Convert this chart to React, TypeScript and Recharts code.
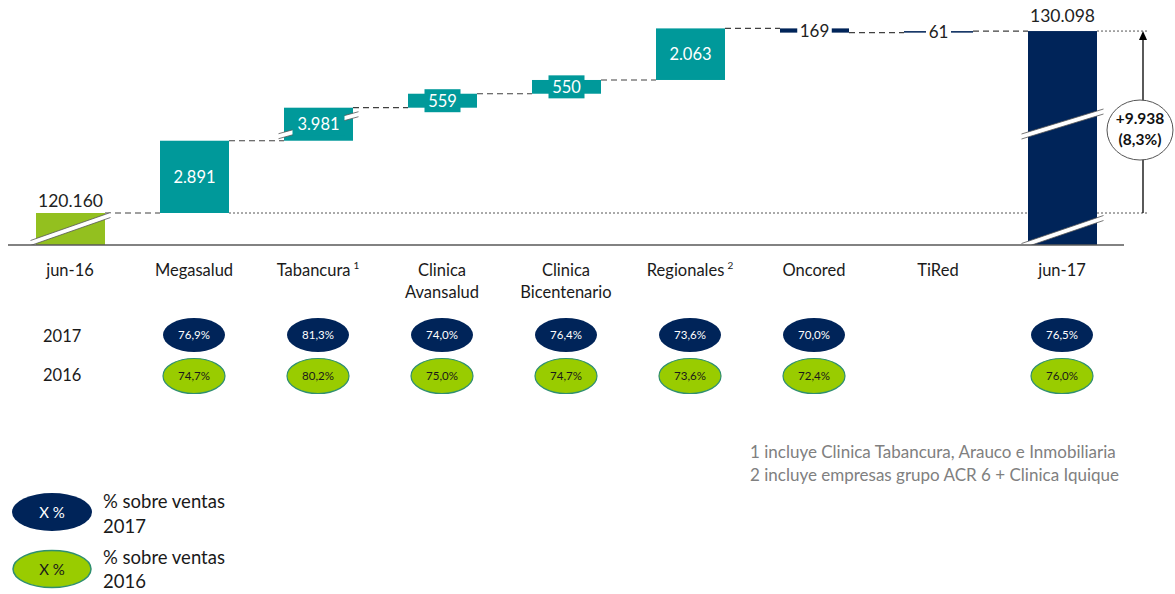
import React from "react";
import { BarChart, Bar, XAxis, YAxis, LabelList } from "recharts";

// categories and their axis labels
const categories = ["jun-16", "Megasalud", "Tabancura", "Clinica Avansalud", "Clinica Bicentenario", "Regionales", "Oncored", "TiRed", "jun-17"];
const tickLine1 = ["jun-16", "Megasalud", "Tabancura", "Clinica", "Clinica", "Regionales", "Oncored", "TiRed", "jun-17"];
const tickLine2 = ["", "", "", "Avansalud", "Bicentenario", "", "", "", ""];
const tickSup = ["", "", "1", "", "", "2", "", "", ""];

// ventas (first and last are totals, the rest are deltas)
const deltas = [120160, 2891, 3981, 559, 550, 2063, -169, 61, 130098];
const valueLabels = ["120.160", "2.891", "3.981", "559", "550", "2.063", "169", "61", "130.098"];

// % sobre ventas
const pct2017 = ["", "76,9%", "81,3%", "74,0%", "76,4%", "73,6%", "70,0%", "", "76,5%"];
const pct2016 = ["", "74,7%", "80,2%", "75,0%", "74,7%", "73,6%", "72,4%", "", "76,0%"];

const totalChange = "+9.938";
const totalPct = "(8,3%)";

const footnotes = ["1 incluye Clinica Tabancura, Arauco e Inmobiliaria", "2 incluye empresas grupo ACR 6 + Clinica Iquique"];

// axis break: the totals start well above zero and Tabancura is drawn shortened
const AXIS_FLOOR = 118880;
const AXIS_TOP = 128680;
const TABANCURA_BREAK = 2660;

const GREEN = "#93c01f";
const TEAL = "#00999a";
const NAVY = "#002459";
const barColors = [GREEN, TEAL, TEAL, TEAL, TEAL, TEAL, NAVY, NAVY, NAVY];

const BAND = 124;
const FONT = "Lato, sans-serif";

const data = (() => {
  const rows: any[] = [];
  let level = deltas[0];
  deltas.forEach((d, i) => {
    if (i === 0) {
      rows.push({ name: categories[i], idx: i, delta: d, range: [AXIS_FLOOR, d], label: valueLabels[i] });
    } else if (i === deltas.length - 1) {
      rows.push({ name: categories[i], idx: i, delta: d, range: [AXIS_FLOOR, d - TABANCURA_BREAK], label: valueLabels[i] });
    } else {
      const shown = i === 2 ? d - TABANCURA_BREAK : d;
      const next = level + shown;
      rows.push({ name: categories[i], idx: i, delta: d, range: [Math.min(level, next), Math.max(level, next)], label: valueLabels[i] });
      level = next;
    }
  });
  return rows;
})();

function BreakMark({ cx, cy, hw, hd }: { cx: number; cy: number; hw: number; hd: number }) {
  const t = 2.5;
  const lx = cx - hw, ly = cy + hd, rx = cx + hw, ry = cy - hd;
  return (
    <g>
      <polygon points={`${lx},${ly + t} ${rx},${ry + t} ${rx},${ry - t} ${lx},${ly - t}`} fill="#fff" />
      <line x1={lx} y1={ly + t} x2={rx} y2={ry + t} stroke="#555" strokeWidth={0.8} />
      <line x1={lx} y1={ly - t} x2={rx} y2={ry - t} stroke="#555" strokeWidth={0.8} />
    </g>
  );
}

function WaterfallBar(props: any) {
  const { x, y, width, height, payload } = props;
  const i = payload.idx;
  const last = deltas.length - 1;
  const endY = payload.delta < 0 ? y + height : y;
  const cx = x + width / 2;

  if (i === last) {
    const floorY = y + height;
    const baseY = floorY - (height * (deltas[0] - AXIS_FLOOR)) / (payload.range[1] - AXIS_FLOOR);
    const ax = x + width + 46;
    const megaRight = x - 7 * BAND + width;
    return (
      <g>
        <line x1={megaRight} y1={baseY} x2={ax + 4} y2={baseY} stroke="#555" strokeWidth={1} strokeDasharray="2 2" />
        <rect x={x} y={y} width={width} height={height} fill={barColors[i]} />
        <line x1={x + width} y1={y} x2={ax + 4} y2={y} stroke="#555" strokeWidth={1} strokeDasharray="2 2" />
        <BreakMark cx={cx} cy={y + height - 121} hw={41} hd={12.5} />
        <BreakMark cx={cx} cy={y + height - 13} hw={41} hd={14} />
        <line x1={ax} y1={baseY} x2={ax} y2={y + 8} stroke="#000" strokeWidth={1.3} />
        <polygon points={`${ax - 4},${y + 9} ${ax + 4},${y + 9} ${ax},${y}`} fill="#000" />
        <ellipse cx={ax - 3} cy={(y + baseY) / 2 + 8} rx={33} ry={30} fill="#fff" stroke="#555" strokeWidth={1} />
        <text x={ax - 3} y={(y + baseY) / 2 + 2} textAnchor="middle" fontFamily={FONT} fontWeight={700} fontSize={15.5} fill="#111">
          {totalChange}
        </text>
        <text x={ax - 3} y={(y + baseY) / 2 + 23} textAnchor="middle" fontFamily={FONT} fontWeight={700} fontSize={15.5} fill="#111">
          {totalPct}
        </text>
      </g>
    );
  }

  return (
    <g>
      <rect x={x} y={y} width={width} height={Math.max(height, 1.5)} fill={barColors[i]} />
      <line x1={x + width} y1={endY} x2={x + BAND} y2={endY} stroke="#404040" strokeWidth={1.2} strokeDasharray="6 4" />
      {i === 0 && <BreakMark cx={cx} cy={y + height - 16} hw={40} hd={14} />}
      {i === 2 && <BreakMark cx={cx} cy={y + height / 2 + 1} hw={40} hd={11} />}
    </g>
  );
}

function ValueLabel(props: any) {
  const { x, y, width, height, value, index } = props;
  const cx = x + width / 2;
  const cy = y + height / 2;
  const last = deltas.length - 1;
  if (index === 0 || index === last) {
    return (
      <text x={cx} y={y - (index === 0 ? 6 : 9)} textAnchor="middle" fontFamily={FONT} fontSize={17.5} fill="#222">
        {value}
      </text>
    );
  }
  if (index === 6 || index === 7) {
    const w = String(value).length * 9.5 + 6;
    return (
      <g>
        <rect x={cx - w / 2} y={cy - 8} width={w} height={16} fill="#fff" />
        <text x={cx} y={cy + 6} textAnchor="middle" fontFamily={FONT} fontSize={17} fill="#222">
          {value}
        </text>
      </g>
    );
  }
  if (index === 3 || index === 4) {
    return (
      <g>
        <rect x={cx - 18} y={cy - 11.5} width={36} height={23} fill={TEAL} />
        <text x={cx} y={cy + 6} textAnchor="middle" fontFamily={FONT} fontSize={16.5} fill="#fff">
          {value}
        </text>
      </g>
    );
  }
  return (
    <g>
      {index === 2 && <rect x={cx - 26} y={cy - 10} width={52} height={21} fill={TEAL} />}
      <text x={cx} y={cy + 6} textAnchor="middle" fontFamily={FONT} fontSize={16.5} fill="#fff">
        {value}
      </text>
    </g>
  );
}

function CategoryTick(props: any) {
  const { x, y, payload } = props;
  const i = categories.indexOf(payload.value);
  return (
    <g>
      <text x={x} y={y + 31} textAnchor="middle" fontFamily={FONT} fontSize={16.5} fill="#1a1a1a">
        {tickLine1[i]}
        {tickSup[i] && (
          <tspan dx={3} dy={-7} fontSize={10}>
            {tickSup[i]}
          </tspan>
        )}
      </text>
      {tickLine2[i] && (
        <text x={x} y={y + 53} textAnchor="middle" fontFamily={FONT} fontSize={16.5} fill="#1a1a1a">
          {tickLine2[i]}
        </text>
      )}
      {pct2017[i] && (
        <g>
          <ellipse cx={x} cy={y + 90} rx={31} ry={17} fill={NAVY} />
          <text x={x} y={y + 94} textAnchor="middle" fontFamily={FONT} fontSize={11.5} fill="#fff">
            {pct2017[i]}
          </text>
        </g>
      )}
      {pct2016[i] && (
        <g>
          <ellipse cx={x} cy={y + 131} rx={31} ry={17.5} fill="#99cc00" stroke="#2f8f6f" strokeWidth={1.2} />
          <text x={x} y={y + 135} textAnchor="middle" fontFamily={FONT} fontSize={11.5} fill="#1a1a1a">
            {pct2016[i]}
          </text>
        </g>
      )}
    </g>
  );
}

export default function App() {
  return (
    <div style={{ position: "absolute", left: 0, top: 0, width: 1175, height: 594, background: "#fff", fontFamily: FONT }}>
      <BarChart width={1175} height={420} data={data} margin={{ top: 0, right: 51, bottom: 0, left: 8 }}>
        <XAxis
          dataKey="name"
          height={175}
          interval={0}
          tickLine={false}
          tickSize={0}
          tickMargin={0}
          axisLine={{ stroke: "#595959", strokeWidth: 1.5 }}
          tick={<CategoryTick />}
        />
        <YAxis hide type="number" domain={[AXIS_FLOOR, AXIS_TOP]} allowDataOverflow />
        <Bar dataKey="range" barSize={69} shape={<WaterfallBar />} isAnimationActive={false}>
          <LabelList dataKey="label" content={<ValueLabel />} />
        </Bar>
      </BarChart>
      <svg width={1175} height={594} style={{ position: "absolute", left: 0, top: 0, pointerEvents: "none" }}>
        <text x={43} y={342} fontFamily={FONT} fontSize={16.5} fill="#1a1a1a">2017</text>
        <text x={43} y={381} fontFamily={FONT} fontSize={16.5} fill="#1a1a1a">2016</text>
        {footnotes.map((f, k) => (
          <text key={k} x={750} y={458 + k * 23} fontFamily={FONT} fontSize={17} fill="#808080">
            {f}
          </text>
        ))}
        <ellipse cx={52} cy={512} rx={40} ry={19} fill={NAVY} />
        <text x={52} y={518} textAnchor="middle" fontFamily={FONT} fontSize={15} fill="#fff">X %</text>
        <text x={103} y={508} fontFamily={FONT} fontSize={18.5} fill="#1a1a1a">% sobre ventas</text>
        <text x={103} y={533} fontFamily={FONT} fontSize={18.5} fill="#1a1a1a">2017</text>
        <ellipse cx={52} cy={569} rx={39} ry={18.5} fill="#99cc00" stroke="#2f8f6f" strokeWidth={1.5} />
        <text x={52} y={575} textAnchor="middle" fontFamily={FONT} fontSize={15} fill="#1a1a1a">X %</text>
        <text x={103} y={564} fontFamily={FONT} fontSize={18.5} fill="#1a1a1a">% sobre ventas</text>
        <text x={103} y={588} fontFamily={FONT} fontSize={18.5} fill="#1a1a1a">2016</text>
      </svg>
    </div>
  );
}
